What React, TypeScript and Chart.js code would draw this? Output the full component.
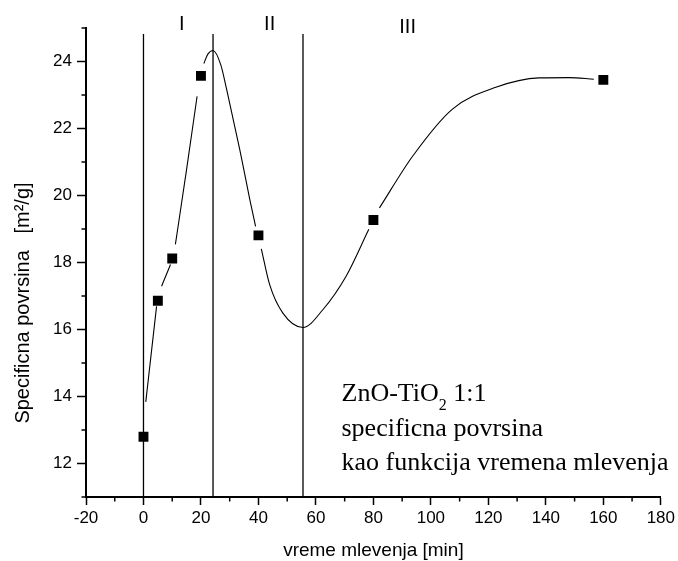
import React, { useEffect, useRef } from 'react';
import { Chart, registerables } from 'chart.js';

Chart.register(...registerables);

// measured points
const timeMin = [0, 5, 10, 20, 40, 80, 160];
const surfaceArea = [12.8, 16.86, 18.12, 23.57, 18.81, 19.27, 23.45];

// fitted curve (null = gap around a marker)
const curveX = [0.8, 4.55, 4.55, 6.3, 9.4, 9.4, 11.1, 15.0, 18.65, 18.65, 21.0, 22.4, 24.2, 26.9, 28.9, 33.5, 37.0, 39.0, 39.0, 41.0, 43.9, 48.5, 55.5, 62.4, 70.5, 78.4, 78.4, 82.1, 93.7, 107.5, 122.6, 137.6, 148, 156.7];
const curveY = [13.84, 16.69, null, 17.29, 17.94, null, 18.54, 20.78, 22.96, null, 23.94, 24.22, 24.33, 23.9, 23.18, 21.37, 19.88, 19.08, null, 18.41, 17.34, 16.49, 16.06, 16.59, 17.59, 18.99, null, 19.63, 21.18, 22.58, 23.23, 23.51, 23.52, 23.47];

// region boundaries
const boundaryX = [0, 24.2, 55.5];
const boundaryTop = 24.82;
const regionLabels = ['I', 'II', 'III'];
const regionLabelX = [13.3, 43.9, 91.9];

// axes
const xMin = -20;
const xMax = 180;
const xStep = 10;
const xLabelStep = 20;
const yMin = 11;
const yMax = 25;
const yStep = 1;
const yLabelStep = 2;

const xTitle = 'vreme mlevenja [min]';
const yTitle = 'Specificna povrsina   [m²/g]';
const noteLine1a = 'ZnO-TiO';
const noteSub = '2';
const noteLine1b = ' 1:1';
const noteLine2 = 'specificna povrsina';
const noteLine3 = 'kao funkcija vremena mlevenja';

const SANS = '"Liberation Sans", Arial, sans-serif';
const SERIF = '"Liberation Serif", "Times New Roman", serif';

const decorPlugin = {
  id: 'decor',
  afterDraw(chart: any) {
    const ctx = chart.ctx;
    const xs = chart.scales.x;
    const ys = chart.scales.y;
    const area = chart.chartArea;
    ctx.save();
    // minor ticks
    ctx.strokeStyle = '#000';
    ctx.lineWidth = 1.5;
    for (let v = xMin; v <= xMax + 1e-9; v += xStep) {
      if (Math.abs(v % xLabelStep) > 1e-9) {
        const px = xs.getPixelForValue(v);
        ctx.beginPath();
        ctx.moveTo(px, area.bottom);
        ctx.lineTo(px, area.bottom + 4.5);
        ctx.stroke();
      }
    }
    for (let v = yMin; v <= yMax + 1e-9; v += yStep) {
      if (Math.abs(v % yLabelStep) > 1e-9) {
        const py = ys.getPixelForValue(v);
        ctx.beginPath();
        ctx.moveTo(area.left - 4.5, py);
        ctx.lineTo(area.left, py);
        ctx.stroke();
      }
    }
    // region labels
    ctx.fillStyle = '#000';
    ctx.font = `20px ${SANS}`;
    ctx.textAlign = 'center';
    ctx.textBaseline = 'alphabetic';
    regionLabels.forEach((t, i) => {
      const px = xs.getPixelForValue(regionLabelX[i]);
      ctx.fillText(t, px, i === 2 ? 33 : 30);
    });
    // x title
    ctx.font = `19px ${SANS}`;
    ctx.fillText(xTitle, (area.left + area.right) / 2, 556);
    // y title
    ctx.save();
    ctx.font = `20px ${SANS}`;
    ctx.translate(29, 303);
    ctx.rotate(-Math.PI / 2);
    ctx.textAlign = 'center';
    ctx.fillText(yTitle, 0, 0);
    ctx.restore();
    // annotation
    ctx.textAlign = 'left';
    ctx.font = `26px ${SERIF}`;
    const nx = 341.5;
    ctx.fillText(noteLine1a, nx, 401);
    let w = ctx.measureText(noteLine1a).width;
    ctx.font = `16px ${SERIF}`;
    ctx.fillText(noteSub, nx + w, 410);
    w += ctx.measureText(noteSub).width;
    ctx.font = `26px ${SERIF}`;
    ctx.fillText(noteLine1b, nx + w, 401);
    ctx.fillText(noteLine2, nx, 436);
    ctx.fillText(noteLine3, nx, 470);
    ctx.restore();
  },
};

export default function App() {
  const ref = useRef<HTMLCanvasElement>(null);
  useEffect(() => {
    document.body.style.margin = '0';
    const canvas = ref.current!;
    const markerData = timeMin.map((x, i) => ({ x, y: surfaceArea[i] }));
    const curveData = curveX.map((x, i) => ({ x, y: curveY[i] }));
    const boundaryDatasets = boundaryX.map((bx) => ({
      data: [{ x: bx, y: yMin }, { x: bx, y: boundaryTop }],
      showLine: true,
      borderColor: '#000',
      borderWidth: 1.3,
      pointRadius: 0,
      fill: false,
    }));
    const chart = new Chart(canvas, {
      type: 'scatter',
      data: {
        datasets: [
          {
            data: markerData,
            pointStyle: 'rect',
            pointRadius: 7,
            pointHoverRadius: 7,
            backgroundColor: '#000',
            borderColor: '#000',
            borderWidth: 0,
            showLine: false,
          },
          {
            data: curveData as any,
            showLine: true,
            spanGaps: false,
            cubicInterpolationMode: 'monotone',
            tension: 0.4,
            borderColor: '#000',
            borderWidth: 1.1,
            pointRadius: 0,
            fill: false,
          },
          ...boundaryDatasets,
        ] as any,
      },
      plugins: [decorPlugin],
      options: {
        responsive: false,
        animation: false,
        events: [],
        layout: { padding: { left: 0, top: 28, right: 16, bottom: 0 } },
        plugins: { legend: { display: false }, tooltip: { enabled: false } },
        scales: {
          x: {
            type: 'linear',
            min: xMin,
            max: xMax,
            afterFit: (s: any) => { s.height = 64; },
            border: { display: true, color: '#000', width: 2 },
            grid: {
              drawOnChartArea: false,
              drawTicks: true,
              tickLength: 8,
              tickWidth: 1.5,
              tickColor: (c: any) => (c.tick && Math.abs(c.tick.value % xLabelStep) < 1e-9 ? '#000' : 'rgba(0,0,0,0)'),
            },
            ticks: {
              stepSize: xStep,
              autoSkip: false,
              maxRotation: 0,
              padding: 3,
              color: '#000',
              font: { family: SANS, size: 17 },
              callback: (v: any) => (Math.abs(Number(v) % xLabelStep) < 1e-9 ? String(v) : ''),
            },
          },
          y: {
            type: 'linear',
            min: yMin,
            max: yMax,
            afterFit: (s: any) => { s.width = 86; },
            border: { display: true, color: '#000', width: 2 },
            grid: {
              drawOnChartArea: false,
              drawTicks: true,
              tickLength: 9,
              tickWidth: 1.5,
              tickColor: (c: any) => (c.tick && Math.abs(c.tick.value % yLabelStep) < 1e-9 ? '#000' : 'rgba(0,0,0,0)'),
            },
            ticks: {
              stepSize: yStep,
              autoSkip: false,
              padding: 5,
              color: '#000',
              font: { family: SANS, size: 17 },
              callback: (v: any) => (Math.abs(Number(v) % yLabelStep) < 1e-9 ? String(v) : ''),
            },
          },
        },
      } as any,
    });
    return () => chart.destroy();
  }, []);
  return <canvas ref={ref} width={678} height={561} style={{ display: 'block' }} />;
}
